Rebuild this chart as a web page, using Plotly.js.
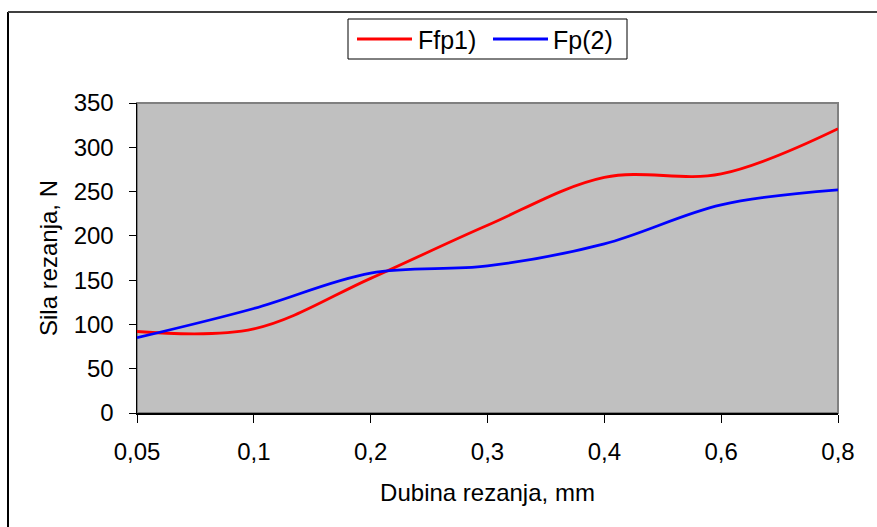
<!DOCTYPE html>
<html>
<head>
<meta charset="utf-8">
<script src="https://cdn.plot.ly/plotly-3.0.1.min.js"></script>
<style>
  html, body { margin: 0; padding: 0; background: #ffffff; }
  #chart { width: 877px; height: 527px; }
</style>
</head>
<body>
<div id="chart"></div>
<script>
// Data
const categories = ['0,05', '0,1', '0,2', '0,3', '0,4', '0,6', '0,8'];
const seriesNames = ['Ffp1)', 'Fp(2)'];
const seriesColors = ['#FF0000', '#0000FF'];
const ffp1 = [92, 95, 152, 212, 266, 270, 321];
const fp2 = [85, 118, 158, 166, 191, 235, 252];
const yTicks = [0, 50, 100, 150, 200, 250, 300, 350];

const W = 877, H = 527;
const M = { l: 137, r: 39, t: 103, b: 114 };
const plotW = W - M.l - M.r, plotH = H - M.t - M.b;
const px2x = p => (p - M.l) / plotW;
const px2y = p => (H - M.b - p) / plotH;

const FONT = 'Liberation Sans, Arial, sans-serif';
const FS = 24;

const traces = [
  { x: categories, y: ffp1, name: seriesNames[0], type: 'scatter', mode: 'lines',
    line: { color: seriesColors[0], width: 2.8, shape: 'spline', smoothing: 1 } },
  { x: categories, y: fp2, name: seriesNames[1], type: 'scatter', mode: 'lines',
    line: { color: seriesColors[1], width: 2.8, shape: 'spline', smoothing: 1 } }
];

// custom legend (box, sample lines, labels) placed in paper coordinates
const legBox = { x0: 348, x1: 627, y0: 19, y1: 59 };
const legItems = [
  { lineX0: 357, lineX1: 412, textX: 416 },
  { lineX0: 493, lineX1: 548, textX: 551 }
];
const legY = (legBox.y0 + legBox.y1) / 2;

const shapes = [
  // plot-area border (top and right gray)
  { type: 'rect', xref: 'paper', yref: 'paper', x0: 0, x1: 1, y0: 0, y1: 1,
    line: { color: '#808080', width: 2 }, layer: 'below' },
  // outer chart border (left and top; right/bottom lie outside the picture)
  { type: 'line', xref: 'paper', yref: 'paper', x0: px2x(8), x1: px2x(8), y0: px2y(12), y1: px2y(H + 10),
    line: { color: '#000000', width: 2 } },
  { type: 'line', xref: 'paper', yref: 'paper', x0: px2x(8), x1: px2x(W + 10), y0: px2y(12), y1: px2y(12),
    line: { color: '#404040', width: 2 } },
  // legend box
  { type: 'rect', xref: 'paper', yref: 'paper', x0: px2x(legBox.x0), x1: px2x(legBox.x1),
    y0: px2y(legBox.y1), y1: px2y(legBox.y0), line: { color: '#000000', width: 1 }, fillcolor: '#ffffff' }
];
const annotations = [];
legItems.forEach((it, i) => {
  shapes.push({ type: 'line', xref: 'paper', yref: 'paper', x0: px2x(it.lineX0), x1: px2x(it.lineX1),
    y0: px2y(legY), y1: px2y(legY), line: { color: seriesColors[i], width: 2.8 } });
  annotations.push({ xref: 'paper', yref: 'paper', x: px2x(it.textX), y: px2y(legY + 1),
    xanchor: 'left', yanchor: 'middle', showarrow: false, text: seriesNames[i],
    font: { family: FONT, size: 25, color: '#000000' } });
});

const layout = {
  width: W, height: H,
  margin: M,
  paper_bgcolor: '#ffffff',
  plot_bgcolor: '#C0C0C0',
  font: { family: FONT, size: FS, color: '#000000' },
  showlegend: false,
  xaxis: {
    type: 'category',
    range: [0, categories.length - 1],
    showgrid: false, zeroline: false,
    showline: true, linecolor: '#000000', linewidth: 1.5,
    ticks: 'outside', ticklen: 8, tickwidth: 1, tickcolor: '#000000',
    ticklabelstandoff: 9,
    tickfont: { family: FONT, size: FS },
    title: { text: 'Dubina rezanja, mm', font: { family: FONT, size: FS }, standoff: 20 },
    fixedrange: true
  },
  yaxis: {
    range: [0, 350],
    tickmode: 'array', tickvals: yTicks, ticktext: yTicks.map(String),
    showgrid: false, zeroline: false,
    showline: true, linecolor: '#000000', linewidth: 1.5,
    ticks: 'outside', ticklen: 7, tickwidth: 1, tickcolor: '#000000',
    ticklabelstandoff: 10,
    tickfont: { family: FONT, size: FS },
    title: { text: 'Sila rezanja, N', font: { family: FONT, size: FS }, standoff: 9 },
    fixedrange: true
  },
  // overlay axes only to draw the inside half of the crossing tick marks
  xaxis2: {
    overlaying: 'x', anchor: 'y', side: 'bottom',
    range: [0, categories.length - 1], tickmode: 'linear', tick0: 0, dtick: 1,
    ticks: 'inside', ticklen: 8, tickwidth: 1, tickcolor: '#000000',
    showticklabels: false, showgrid: false, zeroline: false, showline: false
  },
  yaxis2: {
    overlaying: 'y', anchor: 'x', side: 'left',
    range: [0, 350], tickmode: 'array', tickvals: yTicks,
    ticks: 'inside', ticklen: 8, tickwidth: 1, tickcolor: '#000000',
    showticklabels: false, showgrid: false, zeroline: false, showline: false
  },
  shapes: shapes,
  annotations: annotations
};

Plotly.newPlot('chart', traces, layout, { displayModeBar: false, staticPlot: true });
</script>
</body>
</html>
